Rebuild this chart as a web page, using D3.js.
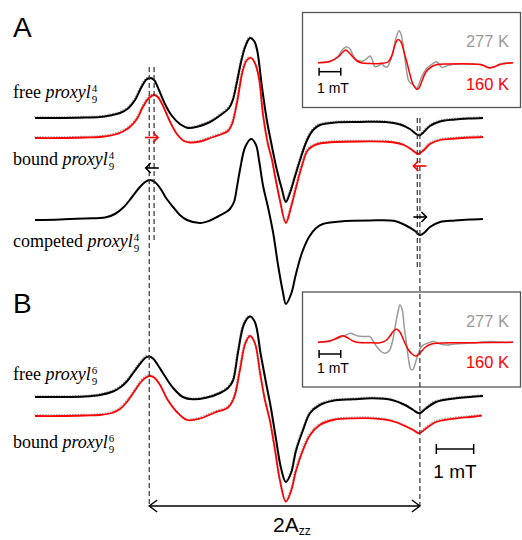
<!DOCTYPE html>
<html>
<head>
<meta charset="utf-8">
<script src="https://cdn.jsdelivr.net/npm/d3@7"></script>
<style>
  body { margin: 0; background: #fff; }
  svg { display: block; }
</style>
</head>
<body>
<script>
// spectra: [field (mT), signal (a.u.)]
const freeA = [[0,0],[0.67,0],[1.34,0.05],[1.74,0.1],[2.01,0.25],[2.28,0.5],[2.49,0.95],[2.68,1.8],[2.84,3.0],[2.97,3.8],[3.08,4.0],[3.19,3.8],[3.32,2.8],[3.48,1.4],[3.67,0.2],[3.88,-0.6],[4.10,-1.0],[4.37,-0.85],[4.69,-0.4],[5.01,0.4],[5.20,1.0],[5.30,1.8],[5.41,3.6],[5.52,5.6],[5.63,7.1],[5.76,8.0],[5.87,7.7],[5.95,6.8],[6.08,3.1],[6.21,-0.2],[6.35,-2.9],[6.48,-5.2],[6.62,-7.2],[6.72,-8.4],[6.83,-7.5],[6.96,-5.9],[7.10,-4.2],[7.29,-2.2],[7.45,-1.2],[7.63,-0.7],[8.04,-0.45],[8.71,-0.4],[9.38,-0.4],[9.78,-0.65],[10.04,-1.1],[10.21,-1.6],[10.29,-1.75],[10.39,-1.5],[10.58,-0.8],[10.85,-0.35],[11.25,-0.15],[11.65,-0.05],[12,0]];
const boundA = [[0,0],[0.67,0],[1.34,0.05],[1.74,0.1],[2.09,0.3],[2.33,0.6],[2.54,1.1],[2.73,1.9],[2.89,3.1],[3.05,4.0],[3.19,4.3],[3.29,4.1],[3.43,3.2],[3.62,1.6],[3.80,0.4],[3.99,-0.3],[4.15,-0.45],[4.42,-0.35],[4.77,0.1],[5.01,0.4],[5.17,0.7],[5.28,1.4],[5.41,3.5],[5.57,6.8],[5.68,7.8],[5.79,8.0],[5.89,7.5],[6.00,6.0],[6.11,2.3],[6.24,-0.6],[6.35,-2.2],[6.43,-3.8],[6.56,-6.2],[6.72,-8.5],[6.86,-6.9],[6.99,-5.0],[7.15,-2.8],[7.31,-1.2],[7.50,-0.7],[7.63,-0.55],[8.04,-0.4],[8.71,-0.35],[9.51,-0.4],[9.88,-0.7],[10.10,-1.2],[10.26,-1.6],[10.39,-1.3],[10.58,-0.6],[10.85,-0.2],[11.25,-0.05],[11.65,0.05],[12,0.1]];
const competedA = [[0,0],[0.67,0.05],[1.34,0.15],[1.88,0.25],[2.14,0.6],[2.38,1.3],[2.60,2.3],[2.81,3.3],[2.95,3.8],[3.08,4.0],[3.21,3.8],[3.35,3.2],[3.51,2.2],[3.70,1.3],[3.88,0.5],[4.07,0],[4.42,-0.3],[4.69,-0.05],[4.90,0.35],[5.12,0.8],[5.22,1.1],[5.33,1.8],[5.41,3.3],[5.49,5.0],[5.63,7.3],[5.79,8.1],[5.92,7.5],[6.00,6.0],[6.11,3.4],[6.24,1.3],[6.38,-1.3],[6.51,-4.5],[6.64,-7.2],[6.72,-8.4],[6.86,-7.4],[6.99,-5.4],[7.15,-3.3],[7.34,-1.7],[7.53,-0.8],[7.71,-0.4],[8.17,-0.15],[8.97,-0.05],[9.64,-0.1],[9.91,-0.5],[10.18,-1.1],[10.31,-1.5],[10.45,-1.2],[10.58,-0.7],[10.85,-0.2],[11.25,-0.05],[11.65,0.05],[12,0.1]];
const freeB = [[0,0],[0.67,0],[1.34,0.05],[1.74,0.2],[2.09,0.55],[2.28,0.95],[2.46,1.55],[2.65,2.5],[2.81,3.3],[2.95,3.9],[3.05,4.05],[3.16,3.85],[3.29,3.2],[3.46,2.2],[3.70,0.9],[3.96,0],[4.23,-0.23],[4.58,-0.08],[4.96,0.4],[5.17,0.9],[5.30,1.6],[5.44,4.5],[5.60,7.3],[5.76,8.05],[5.89,7.5],[6.05,4.2],[6.19,1.4],[6.32,-1.1],[6.46,-4.3],[6.59,-7.1],[6.72,-8.5],[6.86,-7.6],[6.99,-5.4],[7.18,-3.3],[7.37,-1.6],[7.63,-0.8],[7.98,-0.37],[8.52,-0.23],[9.05,-0.13],[9.56,-0.3],[9.91,-0.8],[10.13,-1.3],[10.29,-1.63],[10.47,-1.15],[10.74,-0.5],[11.28,-0.13],[11.65,0],[12,0.1]];
const boundB = [[0,0],[0.67,0],[1.34,0.05],[1.74,0.1],[2.06,0.3],[2.28,0.7],[2.46,1.4],[2.65,2.4],[2.84,3.4],[2.97,3.85],[3.08,4.0],[3.19,3.85],[3.35,3.1],[3.54,1.7],[3.80,0.4],[4.07,-0.4],[4.42,-0.25],[4.82,0.35],[5.17,0.85],[5.33,1.8],[5.49,4.6],[5.63,7.2],[5.76,8.0],[5.89,7.3],[6.03,4.3],[6.16,1.6],[6.29,-0.4],[6.43,-3.4],[6.56,-6.4],[6.72,-8.57],[6.86,-7.5],[6.99,-5.5],[7.18,-3.4],[7.37,-1.9],[7.63,-0.9],[7.98,-0.4],[8.52,-0.23],[9.05,-0.23],[9.56,-0.5],[9.91,-1.0],[10.13,-1.4],[10.29,-1.73],[10.47,-1.25],[10.74,-0.6],[11.28,-0.23],[11.65,-0.1],[11.97,0.03]];

// insets: 277 K (grey) and 160 K (red)
const insetA277 = [[0,0],[0.55,0.12],[0.92,0.62],[1.11,1.27],[1.32,1.6],[1.48,1.37],[1.66,0.57],[1.85,0.22],[2.08,0.17],[2.26,0.42],[2.40,0.67],[2.49,0.37],[2.63,-0.4],[2.77,-0.33],[2.94,-0.13],[3.05,-0.33],[3.18,-0.46],[3.32,0.07],[3.48,1.27],[3.60,2.47],[3.74,3.2],[3.83,2.87],[3.94,1.6],[4.06,-0.4],[4.17,-1.73],[4.25,-2.0],[4.40,-2.23],[4.56,-2.56],[4.66,-2.13],[4.79,-1.4],[5.02,-0.56],[5.32,-0.06],[5.48,0.1],[5.71,-0.46],[5.94,-0.33],[6.23,-0.16],[7.02,-0.13],[7.57,-0.21],[7.94,-0.48],[8.17,-0.38],[8.40,-0.13],[9,0]];
const insetA160 = [[0,0],[0.55,0.12],[0.92,0.57],[1.15,1.07],[1.27,1.27],[1.38,1.12],[1.57,0.67],[1.80,0.17],[2.03,-0.03],[2.40,-0.08],[2.86,-0.08],[3.23,0.07],[3.42,0.77],[3.55,1.77],[3.69,2.32],[3.83,2.07],[3.97,1.07],[4.11,-0.03],[4.25,-1.23],[4.38,-2.13],[4.56,-2.66],[4.66,-2.53],[4.80,-1.83],[4.98,-0.93],[5.22,-0.43],[5.49,-0.18],[6.09,-0.13],[7.02,-0.13],[7.57,-0.23],[7.89,-0.53],[8.12,-0.43],[8.40,-0.18],[9,0]];
const insetB277 = [[0,0],[0.32,0.08],[0.69,0.23],[1.02,0.48],[1.25,0.68],[1.48,0.9],[1.66,0.78],[1.85,0.63],[2.17,0.58],[2.40,0.56],[2.54,0.13],[2.72,-0.47],[2.91,-0.92],[3.09,-1.1],[3.28,-0.87],[3.42,-0.07],[3.55,1.43],[3.69,3.03],[3.78,3.73],[3.88,3.33],[3.97,1.73],[4.11,-0.57],[4.20,-1.97],[4.29,-2.72],[4.38,-2.72],[4.48,-2.17],[4.62,-1.17],[4.80,-0.37],[5.08,-0.07],[5.35,0.08],[5.63,-0.17],[5.95,-0.27],[6.32,-0.17],[7.02,-0.07],[7.94,0.08],[8.26,0.06],[8.63,-0.02],[9,0]];
const insetB160 = [[0,0],[0.55,0.13],[0.88,0.43],[1.11,0.66],[1.34,0.48],[1.57,0.18],[1.80,0],[2.40,-0.04],[2.86,-0.04],[3.14,0.18],[3.32,0.63],[3.51,1.18],[3.65,1.3],[3.78,1.03],[3.97,0.13],[4.15,-0.67],[4.34,-1.17],[4.52,-1.37],[4.71,-1.07],[4.94,-0.52],[5.17,-0.22],[5.49,-0.1],[6.55,-0.05],[7.94,-0.02],[9,0]];

// stacking offsets (a.u.)
const offsetsA = [0, -2.0, -10.2];
const offsetsB = [0, -1.9];

// reference fields (mT) for the dashed guides
const lowFree = 3.06, lowBound = 3.19, highBound = 10.24, highFree = 10.31;

const red = "#ff0000", grey = "#9a9a9a";
const sans = "'Liberation Sans', Arial, sans-serif";
const serif = "'Liberation Serif', 'Times New Roman', serif";

const svg = d3.select("body").append("svg")
  .attr("width", 522).attr("height", 540);

const x = d3.scaleLinear().domain([0, 12]).range([35, 483]);
const yA = d3.scaleLinear().domain([0, -10]).range([118, 218]);
const yB = d3.scaleLinear().domain([0, -10]).range([397, 497]);

const xi = d3.scaleLinear().domain([0, 9]).range([318, 513]);
const yIA = d3.scaleLinear().domain([0, -1]).range([62.7, 72.7]);
const yIB = d3.scaleLinear().domain([0, -1]).range([342.3, 352.3]);

function trace(data, xs, ys, off, color, width, fit) {
  const line = d3.line()
    .x(d => xs(d[0]))
    .y(d => ys(d[1] + off))
    .curve(d3.curveCatmullRom.alpha(0.5));
  if (fit) {
    svg.append("path").attr("d", line(data))
      .attr("transform", "translate(-0.8,-1.2)")
      .attr("fill", "none").attr("stroke", grey)
      .attr("stroke-width", 1.1).attr("stroke-dasharray", "1.5,1.2");
  }
  svg.append("path").attr("d", line(data))
    .attr("fill", "none").attr("stroke", color)
    .attr("stroke-width", width).attr("stroke-linejoin", "round");
}

function scaleBar(x0, x1, y, t, w) {
  const g = svg.append("g").attr("stroke", "#000").attr("stroke-width", w);
  g.append("line").attr("x1", x0).attr("x2", x1).attr("y1", y).attr("y2", y);
  g.append("line").attr("x1", x0).attr("x2", x0).attr("y1", y - t).attr("y2", y + t);
  g.append("line").attr("x1", x1).attr("x2", x1).attr("y1", y - t).attr("y2", y + t);
}

// panel A
trace(freeA, x, yA, offsetsA[0], "#000", 2, true);
trace(boundA, x, yA, offsetsA[1], red, 1.8, true);
trace(competedA, x, yA, offsetsA[2], "#000", 2, false);
// panel B
trace(freeB, x, yB, offsetsB[0], "#000", 2, true);
trace(boundB, x, yB, offsetsB[1], red, 1.8, true);

// inset boxes
[[12.5, yIA, insetA277, insetA160, 47.3, 90, 93.3, 71.7],
 [292, yIB, insetB277, insetB160, 326.7, 368.3, 373.3, 354]].forEach(([top, ys, g, r, y277, y160, yMt, ybar]) => {
  svg.append("rect").attr("x", 302.5).attr("y", top)
    .attr("width", 218).attr("height", 95)
    .attr("fill", "none").attr("stroke", "#555").attr("stroke-width", 1.3);
  trace(g, xi, ys, 0, grey, 1.5, false);
  trace(r, xi, ys, 0, red, 1.5, false);
  svg.append("text").attr("x", 509).attr("y", y277).attr("text-anchor", "end")
    .attr("font-family", sans).attr("font-size", 16.5).attr("fill", grey).text("277 K");
  svg.append("text").attr("x", 509).attr("y", y160).attr("text-anchor", "end")
    .attr("font-family", sans).attr("font-size", 16.5).attr("fill", red).text("160 K");
  scaleBar(xi(0.05), xi(1.05), ybar, 4, 1.5);
  svg.append("text").attr("x", (xi(0.05) + xi(1.05)) / 2 + 3).attr("y", yMt).attr("text-anchor", "middle")
    .attr("font-family", sans).attr("font-size", 14).text("1 mT");
});

// dashed guides
const guides = [
  [lowFree, yA(5.1), yB(-10.9)],
  [lowBound, yA(5.1), yA(-12.2)],
  [highBound, yA(0), yA(-15.2)],
  [highFree, yA(0), yB(-10.9)]
];
svg.selectAll(".guide").data(guides).enter().append("line")
  .attr("class", "guide")
  .attr("x1", d => x(d[0])).attr("x2", d => x(d[0]))
  .attr("y1", d => d[1]).attr("y2", d => d[2])
  .attr("stroke", "#333").attr("stroke-width", 1.2).attr("stroke-dasharray", "5,3");

// shift arrows: centre field, level (a.u. on panel A), direction, colour
const arrowsA = [
  [3.12, -1.95, 1, red],
  [3.14, -5.0, -1, "#000"],
  [10.31, -4.8, -1, red],
  [10.31, -9.9, 1, "#000"]
];
arrowsA.forEach(([f, lv, dir, c]) => {
  const cx = x(f), cy = yA(lv), half = x(0.175) - x(0);
  const tip = cx + dir * half;
  const g = svg.append("g").attr("stroke", c).attr("stroke-width", 1.6).attr("fill", "none");
  g.append("line").attr("x1", cx - dir * half).attr("x2", tip).attr("y1", cy).attr("y2", cy);
  g.append("path").attr("d", `M${tip - dir * 5},${cy - 5}L${tip},${cy}L${tip - dir * 5},${cy + 5}`);
});

// 2Azz double arrow
const ya = yB(-10.9);
const g2 = svg.append("g").attr("stroke", "#000").attr("stroke-width", 1.4).attr("fill", "none");
g2.append("line").attr("x1", x(lowFree)).attr("x2", x(highFree)).attr("y1", ya).attr("y2", ya);
g2.append("path").attr("d", `M${x(lowFree) + 8},${ya - 6}L${x(lowFree)},${ya}L${x(lowFree) + 8},${ya + 6}`);
g2.append("path").attr("d", `M${x(highFree) - 8},${ya - 6}L${x(highFree)},${ya}L${x(highFree) - 8},${ya + 6}`);

const azz = svg.append("text").attr("x", 273).attr("y", 532)
  .attr("font-family", sans).attr("font-size", 21);
azz.append("tspan").text("2A");
azz.append("tspan").attr("font-size", 12).attr("dy", 3).text("zz");

// main 1 mT scale bar
scaleBar(x(10.75), x(11.75), yB(-5.2), 5, 1.5);
svg.append("text").attr("x", x(11.25)).attr("y", 478).attr("text-anchor", "middle")
  .attr("font-family", sans).attr("font-size", 19).text("1 mT");

// panel letters
svg.append("text").attr("x", 13).attr("y", 37).attr("font-family", sans).attr("font-size", 28).text("A");
svg.append("text").attr("x", 13).attr("y", 313).attr("font-family", sans).attr("font-size", 28).text("B");

// trace labels
function label(y, word, sup) {
  const t = svg.append("text").attr("x", 13).attr("y", y)
    .attr("font-family", serif).attr("font-size", 18);
  t.append("tspan").text(word + " ");
  t.append("tspan").attr("font-style", "italic").text("proxyl");
  const w = t.node().getComputedTextLength();
  svg.append("text").attr("x", 13 + w + 1).attr("y", y - 6)
    .attr("font-family", serif).attr("font-size", 11).text(sup);
  svg.append("text").attr("x", 13 + w + 1).attr("y", y + 5)
    .attr("font-family", serif).attr("font-size", 11).text("9");
}
label(98, "free", "4");
label(165, "bound", "4");
label(247, "competed", "4");
label(380, "free", "6");
label(448, "bound", "6");
</script>
</body>
</html>
